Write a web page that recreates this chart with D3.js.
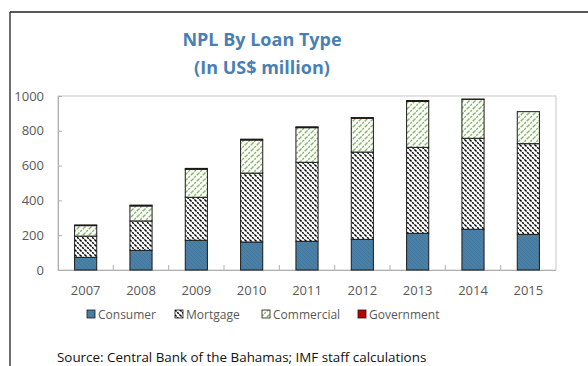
<!DOCTYPE html>
<html>
<head>
<meta charset="utf-8">
<script src="https://cdn.jsdelivr.net/npm/d3@7"></script>
<style>
  html, body { margin: 0; padding: 0; background: #fff; }
  svg { display: block; }
  text { font-family: "Open Sans", "Noto Sans", sans-serif; }
</style>
</head>
<body>
<svg id="chart" width="588" height="366"></svg>
<script>
// NPL by loan type, US$ million
const years = ["2007", "2008", "2009", "2010", "2011", "2012", "2013", "2014", "2015"];
const consumer   = [73, 113, 171, 161, 165, 176, 211, 234, 205];
const mortgage   = [122, 169, 247, 396, 454, 502, 494, 523, 521];
const commercial = [60, 86, 161, 190, 199, 194, 264, 224, 184];
const government = [4, 5, 5, 5, 5, 4, 5, 1, 0];
const seriesNames = ["Consumer", "Mortgage", "Commercial", "Government"];
const yTicks = [0, 200, 400, 600, 800, 1000];

const svg = d3.select("#chart");
const W = 588, H = 366;

// outer frame (top and left edges visible)
svg.append("line").attr("x1", 10).attr("x2", W).attr("y1", 12).attr("y2", 12)
  .attr("stroke", "#222").attr("stroke-width", 1.3);
svg.append("line").attr("x1", 10).attr("x2", 10).attr("y1", 12).attr("y2", H)
  .attr("stroke", "#222").attr("stroke-width", 1.3);

// hatch patterns
const defs = svg.append("defs");
const pConsumer = defs.append("pattern").attr("id", "pat-consumer")
  .attr("patternUnits", "userSpaceOnUse").attr("width", 4).attr("height", 4);
pConsumer.append("rect").attr("width", 4).attr("height", 4).attr("fill", "#4a80a8");
pConsumer.append("path").attr("d", "M0,0 L4,4 M-1,3 L1,5 M3,-1 L5,1")
  .attr("stroke", "#427698").attr("stroke-width", 0.8);

const pMort = defs.append("pattern").attr("id", "pat-mortgage")
  .attr("patternUnits", "userSpaceOnUse").attr("width", 5).attr("height", 5);
pMort.append("rect").attr("width", 5).attr("height", 5).attr("fill", "#fff");
pMort.append("path").attr("d", "M0,0 L5,5 M-2.5,2.5 L2.5,7.5 M2.5,-2.5 L7.5,2.5")
  .attr("stroke", "#000").attr("stroke-width", 1.5).attr("stroke-dasharray", "2.2,0.9");

const pComm = defs.append("pattern").attr("id", "pat-commercial")
  .attr("patternUnits", "userSpaceOnUse").attr("width", 6).attr("height", 6);
pComm.append("rect").attr("width", 6).attr("height", 6).attr("fill", "#fff");
pComm.append("path").attr("d", "M0,6 L6,0 M-3,3 L3,-3 M3,9 L9,3")
  .attr("stroke", "#86b864").attr("stroke-width", 1.4).attr("stroke-dasharray", "2.2,1.1");

const fills = ["url(#pat-consumer)", "url(#pat-mortgage)", "url(#pat-commercial)", "#c00000"];

// plot area
const plot = { left: 58, right: 556, top: 96, bottom: 270 };

const x = d3.scaleBand().domain(years).range([plot.left, plot.right]).paddingInner(0.6).paddingOuter(0.3);
const xTickScale = d3.scaleLinear().domain([0, years.length]).range([plot.left, plot.right]);
const y = d3.scaleLinear().domain([0, 1000]).range([plot.bottom, plot.top]);

// plot frame
svg.append("rect").attr("x", plot.left).attr("y", plot.top)
  .attr("width", plot.right - plot.left).attr("height", plot.bottom - plot.top)
  .attr("fill", "none").attr("stroke", "#c8c8c8").attr("stroke-width", 1);

// y axis
const yAxis = svg.append("g").attr("transform", `translate(${plot.left},0)`)
  .call(d3.axisLeft(y).tickValues(yTicks).tickSize(-4).tickPadding(14).tickFormat(d3.format("d")));
yAxis.select(".domain").attr("stroke", "#b0b0b0");
yAxis.selectAll(".tick line").attr("stroke", "#b0b0b0");
yAxis.selectAll(".tick text").attr("fill", "#595959").attr("font-size", 13)
  .attr("font-family", "'Open Sans', sans-serif");

// x axis: baseline and in-between ticks
svg.append("line").attr("x1", plot.left).attr("x2", plot.right)
  .attr("y1", y(0) + 0.5).attr("y2", y(0) + 0.5).attr("stroke", "#b0b0b0");
svg.append("g").selectAll("line").data(d3.range(1, years.length)).join("line")
  .attr("x1", d => xTickScale(d)).attr("x2", d => xTickScale(d))
  .attr("y1", y(0)).attr("y2", y(0) - 5).attr("stroke", "#b0b0b0");
svg.append("g").selectAll("text").data(years).join("text")
  .attr("x", d => x(d) + x.bandwidth() / 2).attr("y", 295)
  .attr("text-anchor", "middle").attr("fill", "#595959").attr("font-size", 13)
  .text(d => d);

// stacked bars
const rows = years.map((yr, i) => ({
  year: yr, Consumer: consumer[i], Mortgage: mortgage[i],
  Commercial: commercial[i], Government: government[i]
}));
const stacked = d3.stack().keys(seriesNames)(rows);

svg.append("g").selectAll("g").data(stacked).join("g")
  .attr("fill", (d, i) => fills[i])
  .selectAll("rect").data(d => d).join("rect")
  .attr("x", d => x(d.data.year))
  .attr("y", d => y(d[1]))
  .attr("width", x.bandwidth())
  .attr("height", d => y(d[0]) - y(d[1]))
  .attr("stroke", "#1a1a1a").attr("stroke-width", 1);

// title
svg.append("text").attr("x", 262).attr("y", 46).attr("text-anchor", "middle")
  .attr("font-size", 18).attr("font-weight", "bold").attr("fill", "#4a7fb5")
  .text("NPL By Loan Type");
svg.append("text").attr("x", 262).attr("y", 74).attr("text-anchor", "middle")
  .attr("font-size", 18).attr("font-weight", "bold").attr("fill", "#4a7fb5")
  .text("(In US$ million)");

// legend
const legendX = [87, 175, 262, 358];
const legend = svg.append("g").selectAll("g").data(seriesNames).join("g")
  .attr("transform", (d, i) => `translate(${legendX[i]},310)`);
legend.append("rect").attr("width", 8).attr("height", 8)
  .attr("fill", (d, i) => fills[i]).attr("stroke", "#1a1a1a").attr("stroke-width", 0.8);
legend.append("text").attr("x", 11).attr("y", 8.5).attr("fill", "#595959")
  .attr("font-size", 12).text(d => d);

// source note
svg.append("text").attr("x", 57).attr("y", 362).attr("fill", "#111")
  .attr("font-size", 13.4).text("Source: Central Bank of the Bahamas; IMF staff calculations");
</script>
</body>
</html>
